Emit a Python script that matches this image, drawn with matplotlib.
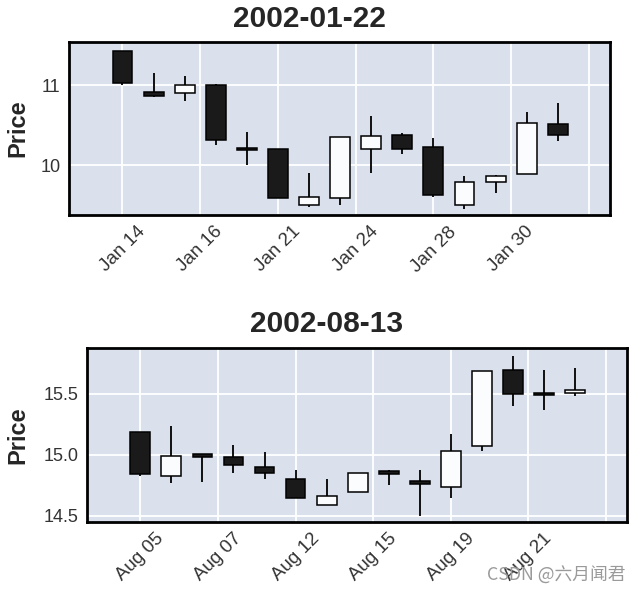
import matplotlib
matplotlib.use("Agg")
import matplotlib.pyplot as plt
from matplotlib.patches import Rectangle

# ---- data ----
jan_title = "2002-01-22"
jan_labels = ["Jan 14", "Jan 16", "Jan 21", "Jan 24", "Jan 28", "Jan 30", ""]
jan_open  = [11.43, 10.91, 10.90, 11.00, 10.21, 10.20, 9.50, 9.59, 10.20, 10.37, 10.22, 9.50, 9.79, 9.89, 10.52]
jan_high  = [11.43, 11.15, 11.12, 11.01, 10.41, 10.20, 9.90, 10.35, 10.61, 10.40, 10.34, 9.86, 9.88, 10.66, 10.78]
jan_low   = [11.00, 10.85, 10.80, 10.25, 10.00, 9.59, 9.47, 9.50, 9.90, 10.14, 9.60, 9.45, 9.65, 9.89, 10.30]
jan_close = [11.03, 10.86, 11.00, 10.31, 10.19, 9.59, 9.60, 10.35, 10.36, 10.20, 9.62, 9.79, 9.86, 10.53, 10.38]

aug_title = "2002-08-13"
aug_labels = ["Aug 05", "Aug 07", "Aug 12", "Aug 15", "Aug 19", "Aug 21", ""]
aug_open  = [15.19, 14.83, 15.01, 14.98, 14.90, 14.80, 14.59, 14.70, 14.87, 14.79, 14.74, 15.07, 15.70, 15.505, 15.51]
aug_high  = [15.19, 15.24, 15.01, 15.08, 15.02, 14.88, 14.80, 14.85, 14.88, 14.88, 15.17, 15.69, 15.81, 15.70, 15.71]
aug_low   = [14.83, 14.77, 14.78, 14.85, 14.80, 14.65, 14.59, 14.70, 14.75, 14.50, 14.65, 15.03, 15.40, 15.37, 15.48]
aug_close = [14.84, 14.99, 14.98, 14.92, 14.85, 14.65, 14.66, 14.85, 14.84, 14.76, 15.03, 15.69, 15.50, 15.495, 15.53]

BG = "#dbe1ec"
UP = "#fbfcfe"
DOWN = "#1a1a1a"

plt.rcParams["font.family"] = ["Liberation Sans", "DejaVu Sans"]

fig = plt.figure(figsize=(6.42, 5.94), dpi=100)


def candles(ax, o, h, l, c, title, labels, yticks, ylim, title_y):
    ax.set_facecolor(BG)
    w = 0.64
    for i in range(len(o)):
        up = c[i] >= o[i]
        col = UP if up else DOWN
        ax.vlines(i, l[i], h[i], color="black", lw=1.3, zorder=2)
        lo = min(o[i], c[i])
        hgt = abs(c[i] - o[i])
        ax.add_patch(Rectangle((i - w / 2, lo), w, hgt, facecolor=col,
                               edgecolor="black", lw=1.1, zorder=3))
    ax.set_xlim(-1.72, 15.68)
    ax.set_ylim(*ylim)
    ticks = [k * 2.5 for k in range(len(labels))]
    ax.set_xticks(ticks)
    ax.set_xticklabels(labels, rotation=45, fontsize=13.5, color="#333333")
    ax.set_yticks(yticks)
    ax.set_yticklabels([("%g" % t) if t != 15.0 else "15.0" for t in yticks],
                       fontsize=13, color="#333333")
    ax.tick_params(length=0, pad=6)
    ax.grid(True, color="white", lw=1.3, zorder=0)
    ax.set_axisbelow(True)
    for s in ax.spines.values():
        s.set_color("black")
        s.set_linewidth(2)
    ax.text(0.444, title_y, title, transform=ax.transAxes, ha="center", va="baseline",
            fontsize=21.5, fontweight="bold", color="#262626")
    ax.set_ylabel("Price", fontsize=17, fontweight="bold", color="#262626")


ax1 = fig.add_axes([69 / 642, 1 - 215 / 594, 541 / 642, 173 / 594])
candles(ax1, jan_open, jan_high, jan_low, jan_close, jan_title, jan_labels,
        [10, 11], (9.375, 11.54), 1 + 15 / 173)
ax1.yaxis.set_label_coords(-(69 - 29) / 541, 0.5)

ax2 = fig.add_axes([87 / 642, 1 - 522 / 594, 540 / 642, 174 / 594])
candles(ax2, aug_open, aug_high, aug_low, aug_close, aug_title, aug_labels,
        [14.5, 15.0, 15.5], (14.45, 15.877), 1 + 16 / 174)
ax2.yaxis.set_label_coords(-(87 - 29) / 540, 0.5)

fig.text(0.975, 0.031, "CSDN @六月闻君", ha="right", va="center", fontsize=12.8,
         color="#9a9a9a", family=["Noto Sans CJK SC", "DejaVu Sans"])

fig.savefig("out.png", dpi=100)
